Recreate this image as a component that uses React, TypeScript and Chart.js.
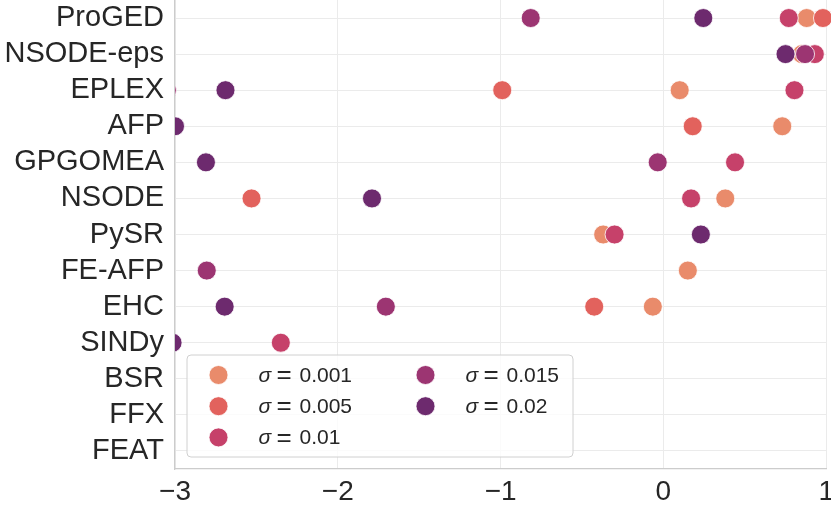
import { useEffect, useRef } from "react"
import { Chart, registerables } from "chart.js"

Chart.register(...registerables)

const methods = [
  "ProGED",
  "NSODE-eps",
  "EPLEX",
  "AFP",
  "GPGOMEA",
  "NSODE",
  "PySR",
  "FE-AFP",
  "EHC",
  "SINDy",
  "BSR",
  "FFX",
  "FEAT",
]

const sigmaLabels = ["0.001", "0.005", "0.01", "0.015", "0.02"]
const sigmaColors = ["#e98b6b", "#e2625d", "#c6416a", "#9c3572", "#6d2a6e"]

// one value per method, null where the method has no point
const sigma001 = [0.88, 0.85, 0.1, 0.73, null, 0.38, -0.37, 0.15, -0.065, null, null, null, null]
const sigma005 = [0.98, null, -0.99, 0.18, null, -2.53, null, null, -0.425, null, null, null, null]
const sigma01 = [0.77, 0.93, 0.805, null, 0.44, 0.17, -0.3, null, null, -2.35, null, null, null]
const sigma015 = [-0.815, 0.87, -3.05, null, -0.035, null, null, -2.805, -1.705, null, null, null, null]
const sigma02 = [0.245, 0.75, -2.69, -3.0, -2.81, -1.79, 0.23, null, -2.695, -3.015, null, null, null]

const sigmaSeries = [sigma001, sigma005, sigma01, sigma015, sigma02]

const xTicks = [-3, -2, -1, 0, 1]

const FONT = "'Liberation Sans', Arial, sans-serif"
const TEXT = "#262626"

const sigmaLegend = {
  id: "sigmaLegend",
  afterDraw(chart: Chart) {
    const { ctx, chartArea } = chart
    const left = chartArea.left + 12
    const w = 386
    const h = 102
    const top = chartArea.bottom - 12 - h

    ctx.save()
    ctx.beginPath()
    ctx.roundRect(left, top, w, h, 4)
    ctx.fillStyle = "rgba(255,255,255,0.8)"
    ctx.fill()
    ctx.strokeStyle = "#d0d0d0"
    ctx.lineWidth = 1
    ctx.stroke()

    chart.data.datasets.forEach((ds, i) => {
      const col = i < 3 ? 0 : 1
      const row = i < 3 ? i : i - 3
      const mx = left + 31.5 + col * 207
      const my = top + 20 + row * 31.2
      ctx.beginPath()
      ctx.arc(mx, my, 9.5, 0, Math.PI * 2)
      ctx.fillStyle = ds.backgroundColor as string
      ctx.fill()
      ctx.strokeStyle = "#ffffff"
      ctx.lineWidth = 0.8
      ctx.stroke()

      const sx = mx + 40
      ctx.fillStyle = TEXT
      ctx.textBaseline = "middle"
      ctx.textAlign = "left"
      ctx.font = `italic 21px ${FONT}`
      ctx.fillText("\u03c3", sx, my + 1)
      ctx.font = `26px ${FONT}`
      ctx.fillText("=", sx + 18, my + 1)
      ctx.font = `21px ${FONT}`
      ctx.fillText(sigmaLabels[i], sx + 41, my + 1)
    })
    ctx.restore()
  },
}

export default function App() {
  const chartRef = useRef<HTMLCanvasElement>(null)
  const chartInstance = useRef<Chart | null>(null)

  useEffect(() => {
    if (!chartRef.current) return
    if (chartInstance.current) chartInstance.current.destroy()
    const ctx = chartRef.current.getContext("2d")
    if (!ctx) return

    const datasets = sigmaSeries.map((series, i) => ({
      label: `\u03c3 = ${sigmaLabels[i]}`,
      data: series
        .map((v, j) => (v === null ? null : { x: v, y: methods[j] }))
        .filter((p) => p !== null),
      backgroundColor: sigmaColors[i],
      borderColor: "#ffffff",
      borderWidth: 0.8,
      pointRadius: 9.5,
      pointHoverRadius: 9.5,
      // later sigmas are drawn on top
      order: sigmaSeries.length - i,
      clip: { left: 0, top: false, right: false, bottom: false },
    }))

    chartInstance.current = new Chart(ctx, {
      type: "scatter",
      data: { datasets: datasets as any },
      options: {
        animation: false,
        responsive: true,
        maintainAspectRatio: false,
        layout: { autoPadding: false, padding: { left: 0, right: 13, top: 0, bottom: 0 } },
        plugins: {
          legend: { display: false },
          tooltip: { enabled: false },
        },
        scales: {
          x: {
            type: "linear",
            min: xTicks[0],
            max: xTicks[xTicks.length - 1],
            afterFit: (scale) => {
              scale.height = 38
            },
            afterBuildTicks: (scale) => {
              scale.ticks = xTicks.map((v) => ({ value: v }))
            },
            grid: { color: "#ebebeb", lineWidth: 1, drawTicks: false },
            border: { display: true, color: "#cccccc", width: 1.25 },
            ticks: {
              color: TEXT,
              padding: 6,
              font: { family: FONT, size: 28 },
              callback: (v) => (Number(v) < 0 ? "\u2212" + Math.abs(Number(v)) : String(v)),
            },
          },
          y: {
            type: "category",
            labels: methods,
            offset: true,
            afterFit: (scale) => {
              scale.width = 175
              scale.paddingTop = 0
              scale.paddingBottom = 0
            },
            grid: { color: "#ebebeb", lineWidth: 1, drawTicks: false, offset: false },
            border: { display: true, color: "#cccccc", width: 1.25 },
            ticks: {
              color: TEXT,
              padding: 11,
              autoSkip: false,
              font: { family: FONT, size: 29 },
            },
          },
        },
      },
      plugins: [sigmaLegend],
    })

    return () => {
      if (chartInstance.current) {
        chartInstance.current.destroy()
        chartInstance.current = null
      }
    }
  }, [])

  return (
    <div style={{ position: "fixed", left: 0, top: 0, width: 831, height: 507, overflow: "hidden", background: "#ffffff" }}>
      <div style={{ position: "relative", width: 840, height: 507 }}>
        <canvas ref={chartRef} />
      </div>
    </div>
  )
}
